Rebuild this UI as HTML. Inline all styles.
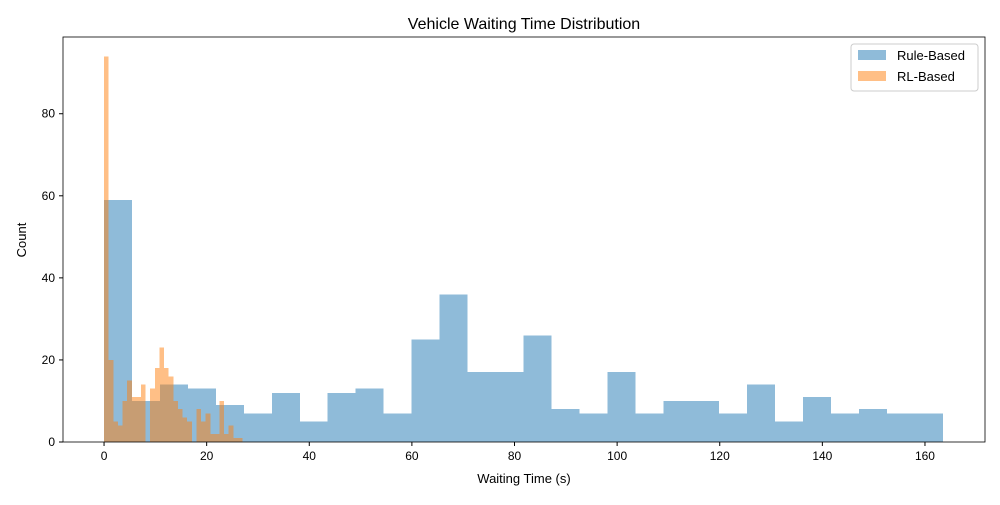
<!DOCTYPE html>
<html><head><meta charset="utf-8"><style>
body{margin:0;background:#fff;font-family:"Liberation Sans","DejaVu Sans",sans-serif}
</style></head><body>
<svg id="chart" width="1000" height="500" xmlns="http://www.w3.org/2000/svg" font-family="Liberation Sans, DejaVu Sans, sans-serif">
<rect width="1000" height="500" fill="#fff"/>
<text x="524" y="29" text-anchor="middle" font-size="16">Vehicle Waiting Time Distribution</text>
<g id="bars" shape-rendering="crispEdges"></g>
<g id="axes"></g>
<text x="524" y="483" text-anchor="middle" font-size="13">Waiting Time (s)</text>
<text transform="translate(26,240) rotate(-90)" text-anchor="middle" font-size="13">Count</text>
<g>
<rect x="851" y="44" width="127" height="47" rx="3" fill="#fff" stroke="#ccc"/>
<rect x="858" y="50" width="28" height="10" fill="#1f77b4" fill-opacity="0.5"/>
<text x="897" y="60" font-size="13">Rule-Based</text>
<rect x="858" y="71" width="28" height="10" fill="#ff7f0e" fill-opacity="0.5"/>
<text x="897" y="81" font-size="13">RL-Based</text>
</g>
</svg>
<script>
const ruleCounts=[59,10,14,13,9,7,12,5,12,13,7,25,36,17,17,26,8,7,17,7,10,10,7,14,5,11,7,8,7,7];
const ruleRange=[0,163.5];
const rlCounts=[94,20,5,4,10,15,11,11,14,0,13,18,23,18,16,10,8,6,5,0,8,5,7,2,2,10,2,4,1,1];
const rlRange=[0,27];
const xTicks=[0,20,40,60,80,100,120,140,160];
const yTicks=[0,20,40,60,80];
const L=63,R=985,T=37,B=442;
const xMin=-8.0,xMax=171.7,yMax=98.7;
const sx=v=>L+(v-xMin)/(xMax-xMin)*(R-L);
const sy=v=>B-v/yMax*(B-T);
const NS="http://www.w3.org/2000/svg";
const bars=document.getElementById('bars'),axes=document.getElementById('axes');
function drawHist(counts,range,color,name){
  const w=(range[1]-range[0])/counts.length;
  counts.forEach((c,i)=>{
    if(!c)return;
    const r=document.createElementNS(NS,'rect');
    const x0=sx(range[0]+i*w),x1=sx(range[0]+(i+1)*w);
    r.setAttribute('x',x0);r.setAttribute('width',x1-x0);
    r.setAttribute('y',sy(c));r.setAttribute('height',sy(0)-sy(c));
    r.setAttribute('fill',color);r.setAttribute('fill-opacity','0.5');
    
    
    bars.appendChild(r);
  });
}
drawHist(ruleCounts,ruleRange,'#1f77b4','rule');
drawHist(rlCounts,rlRange,'#ff7f0e','rl');
const frame=document.createElementNS(NS,'rect');
frame.setAttribute('x',L);frame.setAttribute('y',T);frame.setAttribute('width',R-L);frame.setAttribute('height',B-T);
frame.setAttribute('fill','none');frame.setAttribute('stroke','#000');frame.setAttribute('stroke-width','0.8');


axes.appendChild(frame);
xTicks.forEach(v=>{
  const l=document.createElementNS(NS,'line');
  l.setAttribute('x1',sx(v));l.setAttribute('x2',sx(v));l.setAttribute('y1',B);l.setAttribute('y2',B+4);l.setAttribute('stroke','#000');
  
  
  axes.appendChild(l);
  const t=document.createElementNS(NS,'text');
  t.setAttribute('x',sx(v));t.setAttribute('y',B+18);t.setAttribute('text-anchor','middle');t.setAttribute('font-size','12');
  t.textContent=v;
  
  
  axes.appendChild(t);
});
yTicks.forEach(v=>{
  const l=document.createElementNS(NS,'line');
  l.setAttribute('x1',L-4);l.setAttribute('x2',L);l.setAttribute('y1',sy(v));l.setAttribute('y2',sy(v));l.setAttribute('stroke','#000');
  
  
  axes.appendChild(l);
  const t=document.createElementNS(NS,'text');
  t.setAttribute('x',L-8);t.setAttribute('y',sy(v)+4);t.setAttribute('text-anchor','end');t.setAttribute('font-size','12');
  t.textContent=v;
  
  
  axes.appendChild(t);
});
</script>
</body></html>
